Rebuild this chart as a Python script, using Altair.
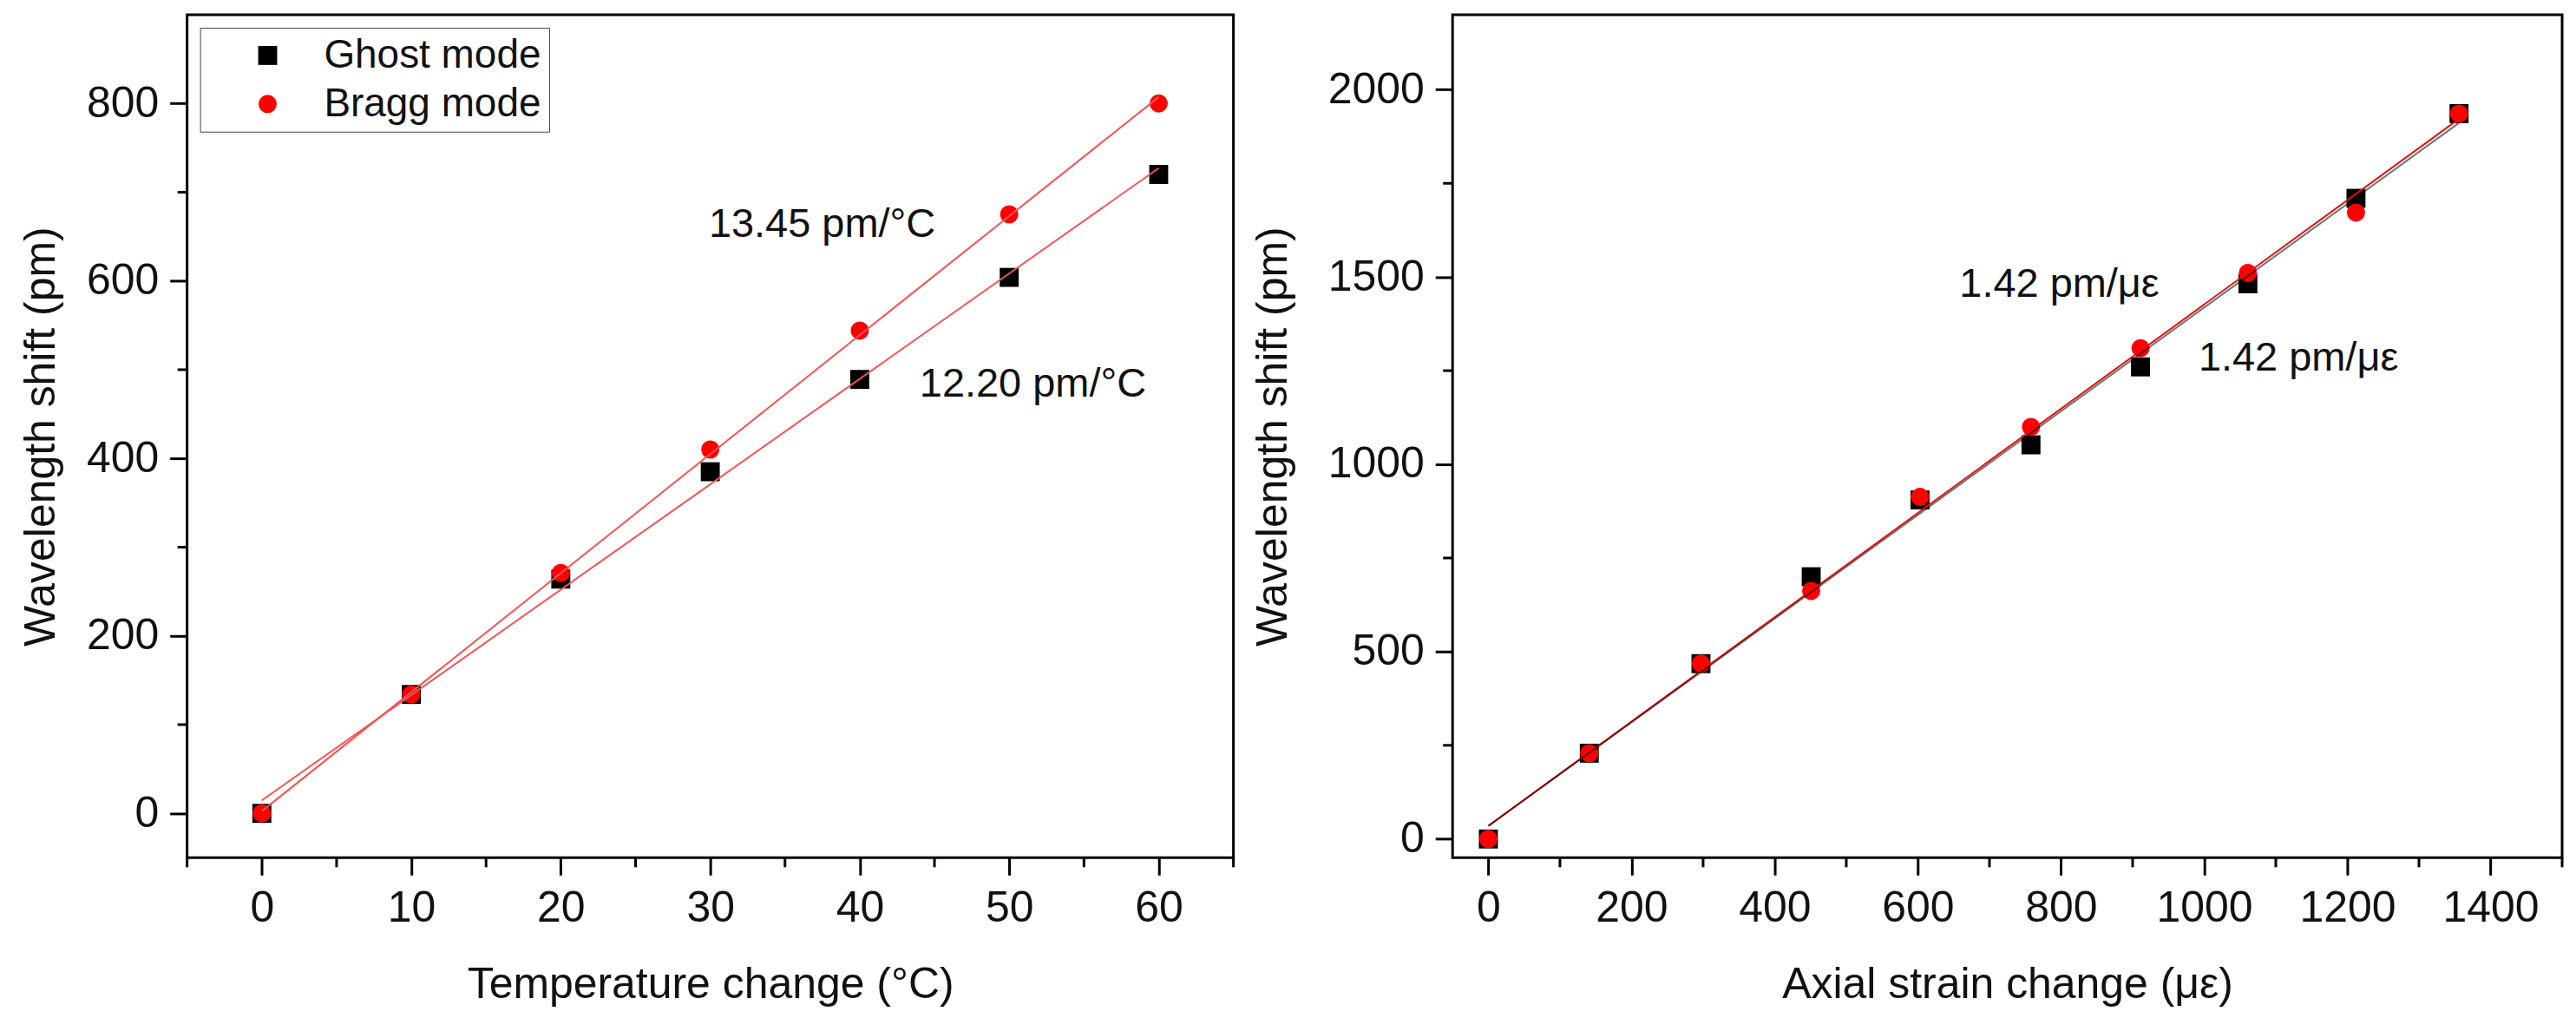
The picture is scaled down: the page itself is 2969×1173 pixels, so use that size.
import altair as alt
import pandas as pd

FONT = "Liberation Sans"
SERIES = ["Ghost mode", "Bragg mode"]

# ---- Left panel: temperature ----
temp_x = [0, 10, 20, 30, 40, 50, 60]
temp_ghost = [0, 134, 264, 385, 489, 604, 720]
temp_bragg = [0, 134, 271, 410, 544, 675, 800]
temp_xticks = [0, 10, 20, 30, 40, 50, 60]
temp_xminor = [-5, 5, 15, 25, 35, 45, 55, 65]
temp_yticks = [0, 200, 400, 600, 800]
temp_yminor = [100, 300, 500, 700]
temp_labels = ["13.45 pm/°C", "12.20 pm/°C"]
temp_label_x = [29.9, 44.0]
temp_label_y = [650, 470]

# ---- Right panel: strain ----
strain_x = [0, 141, 297, 451, 603, 758, 911, 1061, 1212, 1356]
strain_ghost = [0, 229, 468, 700, 905, 1052, 1260, 1482, 1710, 1936]
strain_bragg = [0, 229, 468, 662, 913, 1100, 1310, 1511, 1672, 1936]
strain_xticks = [0, 200, 400, 600, 800, 1000, 1200, 1400]
strain_xminor = [100, 300, 500, 700, 900, 1100, 1300, 1500]
strain_yticks = [0, 500, 1000, 1500, 2000]
strain_yminor = [250, 750, 1250, 1750]
strain_labels = ["1.42 pm/\u03bc\u03b5", "1.42 pm/\u03bc\u03b5"]
strain_label_x = [658, 992]
strain_label_y = [1447, 1251]

H = 973


def panel(xs, ghost, bragg, xdom, ydom, xt, xm, yt, ym, xtitle, ytitle,
          lx, ly, ltxt, W, ytp, legx, legy, ext, gcol, bcol, gop):
    df = pd.DataFrame({
        "x": list(xs) + list(xs),
        "y": list(ghost) + list(bragg),
        "series": [SERIES[0]] * len(xs) + [SERIES[1]] * len(xs),
    })
    xs_ = alt.Scale(domain=xdom, nice=False, zero=False)
    ys_ = alt.Scale(domain=ydom, nice=False, zero=False)
    pts = alt.Chart(df).mark_point(filled=True, opacity=1, strokeWidth=0).encode(
        x=alt.X("x:Q", scale=xs_, axis=alt.Axis(values=xt, format="d", title=xtitle, titlePadding=38)),
        y=alt.Y("y:Q", scale=ys_, axis=alt.Axis(values=yt, format="d", title=ytitle, titlePadding=ytp)),
        shape=alt.Shape("series:N", scale=alt.Scale(domain=SERIES, range=["square", "circle"]),
                        legend=alt.Legend(title=None, orient="none", legendX=legx, legendY=legy)),
        color=alt.Color("series:N", scale=alt.Scale(domain=SERIES, range=["#000000", "#ff0000"]),
                        legend=alt.Legend(title=None, orient="none", legendX=legx, legendY=legy)),
        size=alt.Size("series:N", scale=alt.Scale(domain=SERIES, range=[480, 440]), legend=None),
    )
    lb = alt.Chart(df).transform_filter(alt.datum.series == SERIES[1]).transform_regression(
        "x", "y", extent=ext).mark_line(color=bcol, strokeWidth=2).encode(x="x:Q", y="y:Q")
    lg = alt.Chart(df).transform_filter(alt.datum.series == SERIES[0]).transform_regression(
        "x", "y", extent=ext).mark_line(color=gcol, strokeWidth=2, opacity=gop).encode(x="x:Q", y="y:Q")
    tdf = pd.DataFrame({"x": lx, "y": ly, "label": ltxt})
    txt = alt.Chart(tdf).mark_text(align="left", baseline="alphabetic", font=FONT,
                                   fontSize=47, color="#111111").encode(
        x="x:Q", y="y:Q", text="label:N")
    mx = alt.Chart(pd.DataFrame({"x": xm})).mark_rule(color="black", strokeWidth=3).encode(
        x="x:Q", y=alt.value(H), y2=alt.value(H + 11))
    my = alt.Chart(pd.DataFrame({"y": ym})).mark_rule(color="black", strokeWidth=3).encode(
        y="y:Q", x=alt.value(0), x2=alt.value(-11))
    return alt.layer(pts, lb, lg, txt, mx, my).properties(width=W, height=H)


left = panel(temp_x, temp_ghost, temp_bragg, [-5, 65], [-50, 900],
             temp_xticks, temp_xminor, temp_yticks, temp_yminor,
             "Temperature change (°C)", "Wavelength shift (pm)",
             temp_label_x, temp_label_y, temp_labels, 1208, 27, 15, 15, [0, 60],
             "#f05555", "#f05555", 1.0)
right = panel(strain_x, strain_ghost, strain_bragg, [-50, 1500], [-50, 2200],
              strain_xticks, strain_xminor, strain_yticks, strain_yminor,
              "Axial strain change (\u03bc\u03b5)", "Wavelength shift (pm)",
              strain_label_x, strain_label_y, strain_labels, 1281, 38, 16, 24, [0, 1356],
              "#000000", "#e01010", 0.55)

chart = alt.hconcat(left, right, spacing=16).properties(
    padding={"left": 13, "top": 6, "right": 5, "bottom": 5}
).configure_view(
    stroke="black", strokeWidth=3
).configure_axis(
    domain=False, grid=False, ticks=True, tickSize=20, tickWidth=3, tickColor="black",
    labelFont=FONT, labelFontSize=50, labelColor="#111111", labelPadding=13,
    titleFont=FONT, titleFontSize=50, titleFontWeight="normal", titleColor="#111111",
).configure_legend(
    strokeColor="#444444", fillColor="white", padding=9, symbolSize=450,
    symbolOffset=46, labelOffset=42, rowPadding=10, labelFont=FONT, labelFontSize=46,
    labelColor="#111111", symbolStrokeWidth=0, labelLimit=600,
)

chart.save("out.html", embed_options={"renderer": "svg", "actions": False})
